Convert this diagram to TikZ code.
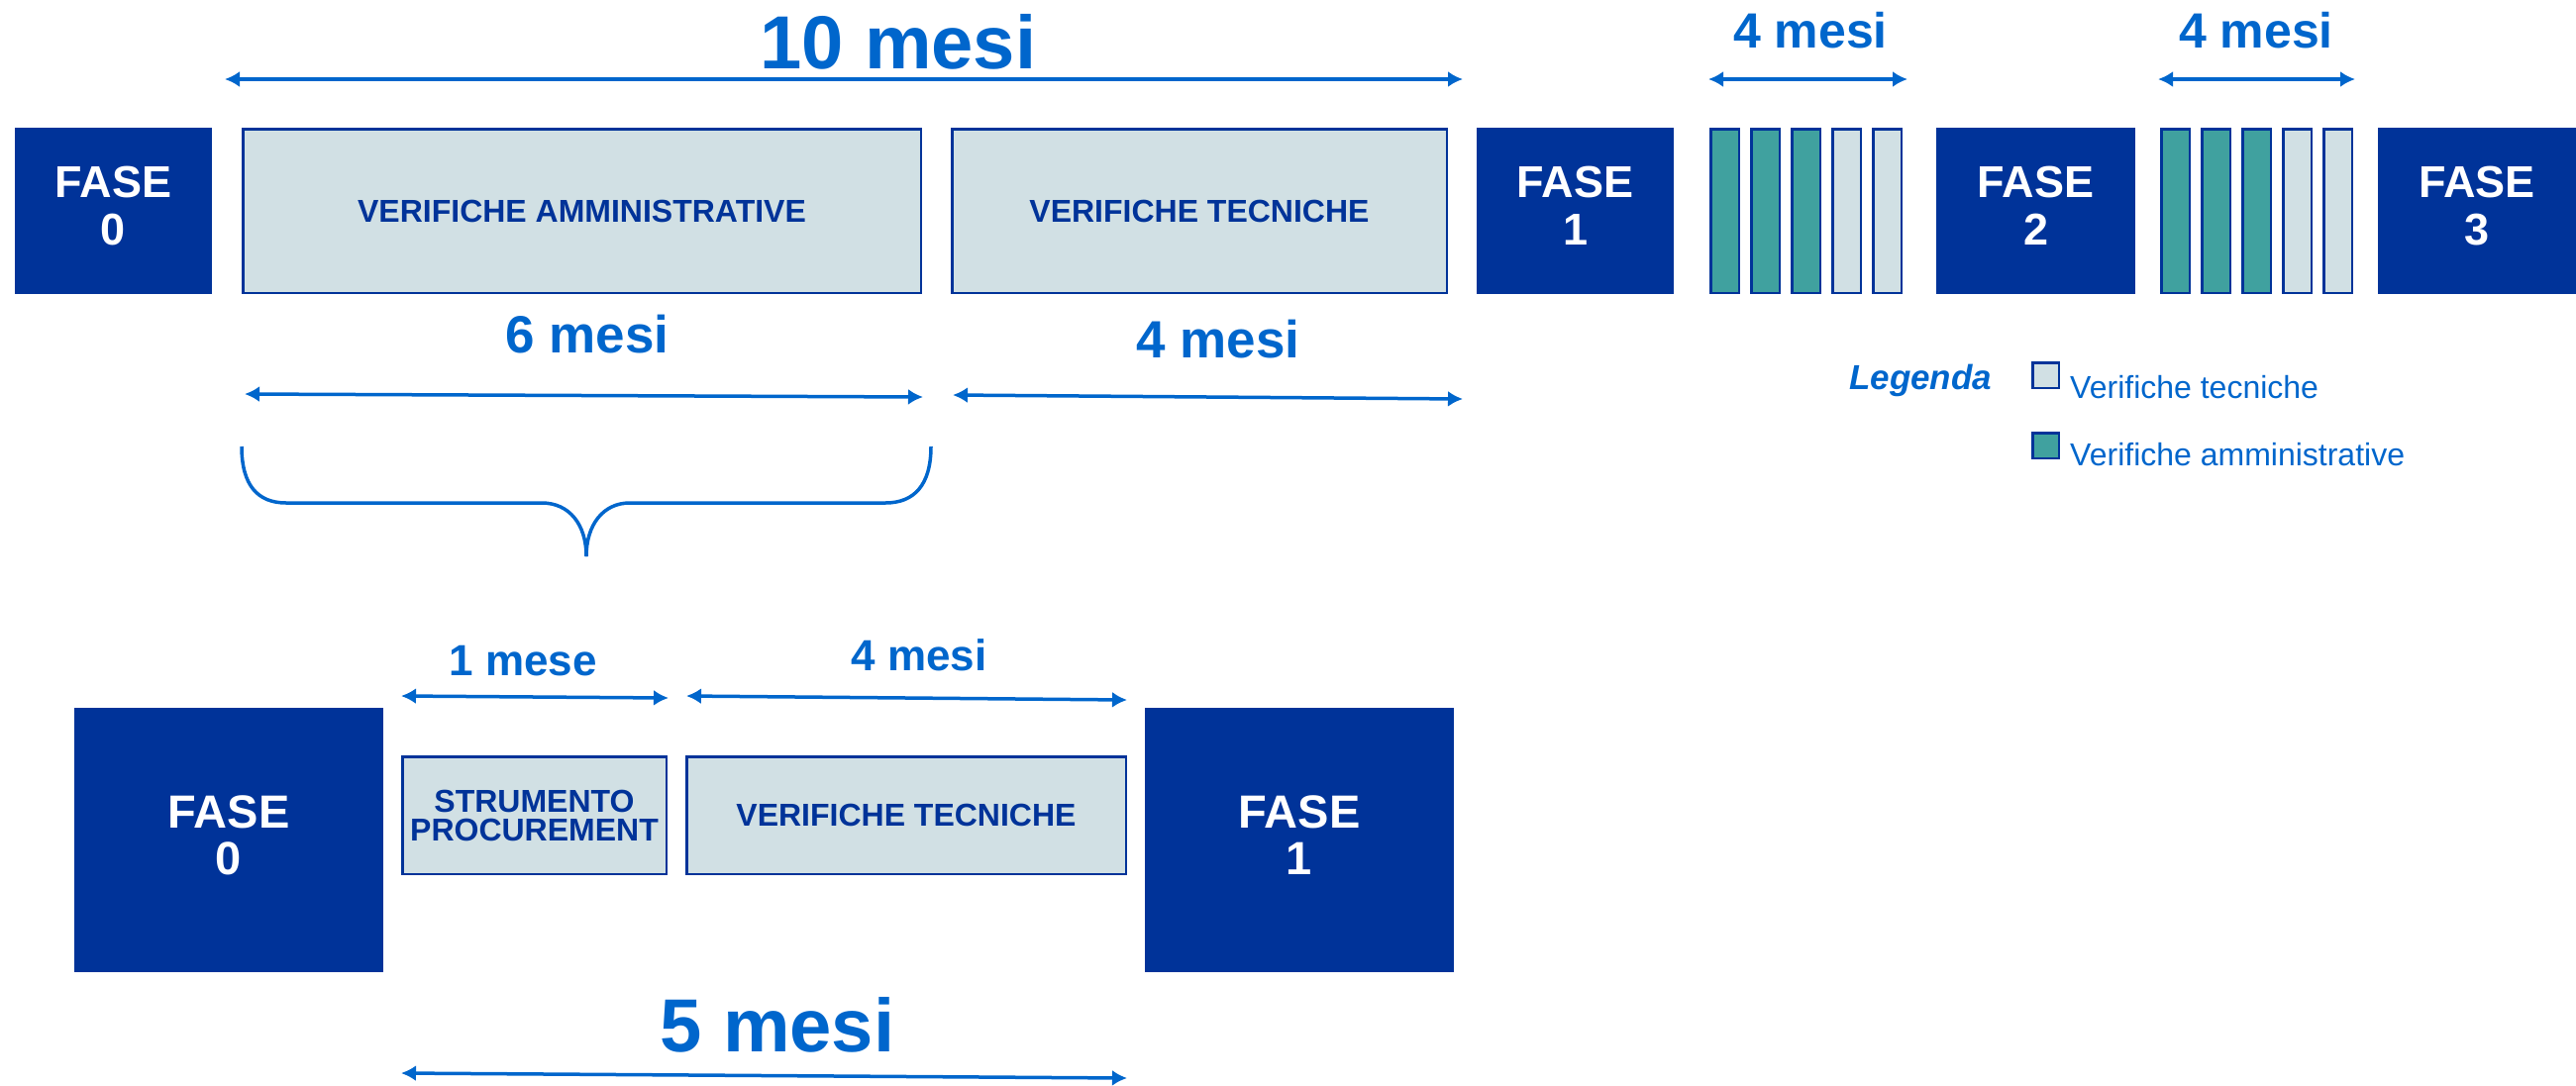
\documentclass[tikz,border=0pt]{standalone}
\usepackage{fontspec}
\setmainfont{Liberation Sans}
\usetikzlibrary{arrows.meta,positioning}
\definecolor{fasecol}{HTML}{003399}
\definecolor{verifcol}{HTML}{D1E0E4}
\definecolor{ammcol}{HTML}{40A19F}
\definecolor{mesicol}{HTML}{0066CC}

\begin{document}
\begin{tikzpicture}[x=1pt,y=-1pt,>={Latex[length=15pt,width=16pt]},
	fase/.style={fill=fasecol,text=white,inner sep=0pt,text depth=10pt,align=center,font=\fontsize{45}{48}\selectfont\bfseries},
	verifica/.style={draw=fasecol,line width=2.5pt,fill=verifcol,text=fasecol,inner sep=0pt,align=center,font=\fontsize{32}{29}\selectfont\bfseries},
	barra/.style={draw=fasecol,line width=2.5pt,fill=#1,inner sep=0pt,minimum width=28.5pt,minimum height=165.5pt},
	mesi/.style={text=mesicol,inner sep=0pt,font=\fontsize{#1}{#1}\selectfont\bfseries},
	durata/.style={<->,draw=mesicol,line width=3.5pt},
	legenda/.style={text=mesicol,inner sep=0pt,anchor=base west,font=\fontsize{32}{34}\selectfont}]
		\useasboundingbox (0,0) rectangle (2601,1096);
		% riga superiore
		\node[fase,minimum width=199pt,minimum height=168pt] (f0) at (114.5,213) {FASE\\0};
		\node[verifica,minimum width=684.5pt,minimum height=165.5pt] (va) at (587.5,213) {VERIFICHE AMMINISTRATIVE};
		\node[verifica,minimum width=499.5pt,minimum height=165.5pt] (vt) at (1211,213) {VERIFICHE TECNICHE};
		\node[fase,minimum width=199pt,minimum height=168pt] (f1) at (1590.5,213) {FASE\\1};
		\foreach \i/\c in {1/ammcol,2/ammcol,3/ammcol,4/verifcol,5/verifcol}
			\node[barra=\c] (ba\i) at (1700.5+41*\i,213) {};
		\node[fase,minimum width=201pt,minimum height=168pt] (f2) at (2055.5,213) {FASE\\2};
		\foreach \i/\c in {1/ammcol,2/ammcol,3/ammcol,4/verifcol,5/verifcol}
			\node[barra=\c] (bb\i) at (2155.5+41*\i,213) {};
		\node[fase,minimum width=200pt,minimum height=168pt] (f3) at (2501,213) {FASE\\3};

		\node[mesi=76] (m10) at (907,42) {10 mesi};
		\coordinate (a10l) at (227,80);
		\coordinate (a10r) at (1477,80);
		\draw[durata] (a10l) -- (a10r);
		\node[mesi=50] (m4a) at (1828,31) {4 mesi};
		\coordinate (a4al) at (1725,80);
		\coordinate (a4ar) at (1926,80);
		\draw[durata] (a4al) -- (a4ar);
		\node[mesi=50] (m4b) at (2278,31) {4 mesi};
		\coordinate (a4bl) at (2179,80);
		\coordinate (a4br) at (2378,80);
		\draw[durata] (a4bl) -- (a4br);

		\node[mesi=53] (m6) at (593,338) {6 mesi};
		\coordinate (a6l) at (247,398);
		\coordinate (a6r) at (932,401);
		\draw[durata] (a6l) -- (a6r);
		\node[mesi=53] (m4c) at (1230,343) {4 mesi};
		\coordinate (a4cl) at (962,399);
		\coordinate (a4cr) at (1477,403);
		\draw[durata] (a4cl) -- (a4cr);

		% graffa
		\draw[mesicol,line width=3.5pt] (244,451) .. controls (244,490) and (260,508) .. (289,508) -- (547,508) .. controls (575,508) and (592,530) .. (592,562);
		\draw[mesicol,line width=3.5pt] (592,562) .. controls (592,530) and (609,508) .. (636,508) -- (894,508) .. controls (923,508) and (940,490) .. (940,451);

		% legenda
		\node[legenda,font=\fontsize{35}{36}\selectfont\bfseries\itshape] (leg) at (1867,393) {Legenda};
		\node[barra=verifcol,minimum width=26.5pt,minimum height=25.5pt] (lt) at (2065.5,379) {};
		\node[legenda] (ltt) at (2090,402) {Verifiche tecniche};
		\node[barra=ammcol,minimum width=26.5pt,minimum height=25.5pt] (la) at (2065.5,450) {};
		\node[legenda] (lat) at (2090,470) {Verifiche amministrative};

		% riga inferiore
		\node[fase,minimum width=312pt,minimum height=267pt,font=\fontsize{47}{47}\selectfont\bfseries] (g0) at (231,848.5) {FASE\\0};
		\node[verifica,minimum width=266.5pt,minimum height=118.5pt] (sp) at (539.5,823.5) {STRUMENTO\\PROCUREMENT};
		\node[verifica,minimum width=443.5pt,minimum height=118.5pt] (gvt) at (915,823.5) {VERIFICHE TECNICHE};
		\node[fase,minimum width=312pt,minimum height=267pt,font=\fontsize{47}{47}\selectfont\bfseries] (g1) at (1312,848.5) {FASE\\1};

		\node[mesi=44] (m1) at (528,668) {1 mese};
		\coordinate (a1l) at (405,703);
		\coordinate (a1r) at (675,705);
		\draw[durata] (a1l) -- (a1r);
		\node[mesi=44] (m4d) at (928,662) {4 mesi};
		\coordinate (a4dl) at (693,703);
		\coordinate (a4dr) at (1138,707);
		\draw[durata] (a4dl) -- (a4dr);
		\node[mesi=76] (m5) at (785,1035) {5 mesi};
		\coordinate (a5l) at (405,1084);
		\coordinate (a5r) at (1138,1089);
		\draw[durata] (a5l) -- (a5r);
	\end{tikzpicture}
\end{document}
